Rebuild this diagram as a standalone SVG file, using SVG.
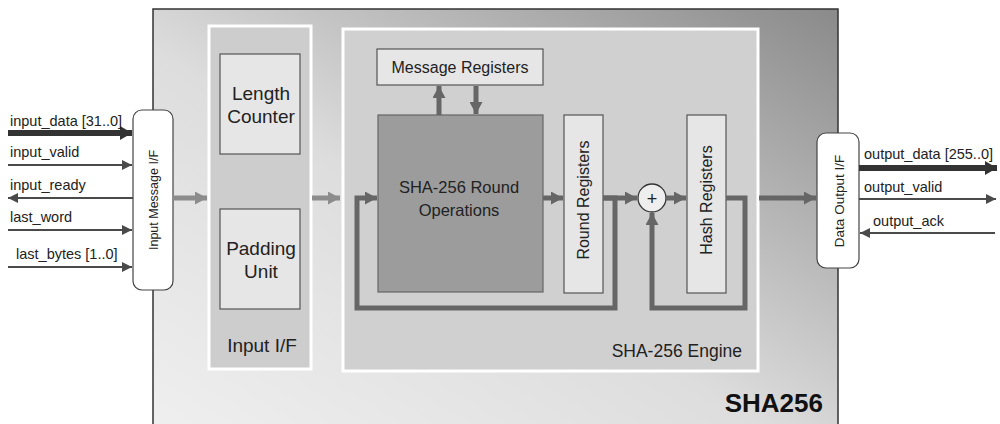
<svg xmlns="http://www.w3.org/2000/svg" width="1000" height="424" viewBox="0 0 1000 424">
<style>
text{font-family:"Liberation Sans",Arial,sans-serif;fill:#222}
.box{fill:#e6e6e6;stroke:#555;stroke-width:1.2}
.panel{fill:#cdcdcd;stroke:#fff;stroke-width:3}
.io{fill:#fff;stroke:#444;stroke-width:1.2}
.flow{fill:none;stroke:#666;stroke-width:5}
.flowl{fill:none;stroke:#8c8c8c;stroke-width:5}
.sig{fill:none;stroke:#4a4a4a;stroke-width:2}
.bus{fill:none;stroke:#333;stroke-width:6}
.lbl{font-size:14.5px}
.big{font-size:19px}
</style>
<defs>
<linearGradient id="g" x1="0" y1="1" x2="1" y2="0">
<stop offset="0" stop-color="#efefef"/>
<stop offset="0.45" stop-color="#dddddd"/>
<stop offset="1" stop-color="#8a8a8a"/>
</linearGradient>
<marker id="af" markerUnits="userSpaceOnUse" markerWidth="13" markerHeight="13" refX="12" refY="6.5" orient="auto"><path d="M0,0 L12,6.5 L0,13 z" fill="#666"/></marker>
<marker id="al" markerUnits="userSpaceOnUse" markerWidth="13" markerHeight="13" refX="12" refY="6.5" orient="auto"><path d="M0,0 L12,6.5 L0,13 z" fill="#8c8c8c"/></marker>
<marker id="as" markerUnits="userSpaceOnUse" markerWidth="11" markerHeight="10" refX="10" refY="5" orient="auto"><path d="M0,0 L10,5 L0,10 z" fill="#4a4a4a"/></marker>
<marker id="ab" markerUnits="userSpaceOnUse" markerWidth="13" markerHeight="14" refX="12" refY="7" orient="auto"><path d="M0,0 L12,7 L0,14 z" fill="#333"/></marker>
</defs>

<g id="sha256">
<rect x="153" y="9" width="685" height="420" fill="url(#g)" stroke="#333" stroke-width="1.5"/>
<text x="823" y="412" text-anchor="end" font-size="26" font-weight="bold" style="fill:#111">SHA256</text>
</g>

<g id="input-if">
<rect class="panel" x="209" y="26" width="102" height="343"/>
<text x="262" y="352" text-anchor="middle" class="big">Input I/F</text>
</g>
<g id="length-counter">
<rect class="box" x="220" y="54" width="80" height="100"/>
<text x="261" y="100" text-anchor="middle" class="big">Length</text>
<text x="261" y="123" text-anchor="middle" class="big">Counter</text>
</g>
<g id="padding-unit">
<rect class="box" x="220" y="209" width="80" height="100"/>
<text x="261" y="255" text-anchor="middle" class="big">Padding</text>
<text x="261" y="278" text-anchor="middle" class="big">Unit</text>
</g>

<g id="engine">
<rect class="panel" x="343" y="29" width="415" height="342" style="fill:#d0d0d0"/>
<text x="742" y="357" text-anchor="end" font-size="17.5">SHA-256 Engine</text>
</g>
<g id="message-registers">
<rect class="box" x="377" y="49" width="166" height="36"/>
<text x="460" y="73" text-anchor="middle" font-size="16">Message Registers</text>
</g>
<g id="round-ops">
<rect x="378" y="115" width="165" height="177" fill="#9c9c9c" stroke="#666" stroke-width="1.2"/>
<text x="459" y="193" text-anchor="middle" font-size="16.5">SHA-256 Round</text>
<text x="459" y="216" text-anchor="middle" font-size="16.5">Operations</text>
</g>
<g id="round-registers">
<rect class="box" x="564" y="115" width="39" height="178"/>
<text transform="translate(589,200) rotate(-90)" text-anchor="middle" font-size="16">Round Registers</text>
</g>
<g id="adder">
<circle cx="652" cy="198" r="14" fill="#eeeeee" stroke="#333" stroke-width="1.3"/>
<text x="652" y="204.5" text-anchor="middle" font-size="18">+</text>
</g>
<g id="hash-registers">
<rect class="box" x="687" y="115" width="39" height="178"/>
<text transform="translate(712,200) rotate(-90)" text-anchor="middle" font-size="16">Hash Registers</text>
</g>

<g id="input-message-if">
<rect class="io" x="133" y="110" width="40" height="180" rx="9"/>
<text transform="translate(157.5,200) rotate(-90)" text-anchor="middle" font-size="12.5">Input Message I/F</text>
</g>
<g id="data-output-if">
<rect class="io" x="817" y="133" width="42" height="135" rx="9"/>
<text transform="translate(843.5,201) rotate(-90)" text-anchor="middle" font-size="13.5">Data Output I/F</text>
</g>

<g id="connectors">
<line class="flowl" x1="173" y1="198" x2="207" y2="198" marker-end="url(#al)"/>
<line class="flowl" x1="312" y1="198" x2="340" y2="198" marker-end="url(#al)"/>
<line class="flow" x1="439" y1="115" x2="439" y2="86" marker-end="url(#af)"/>
<line class="flow" x1="476" y1="86" x2="476" y2="114" marker-end="url(#af)"/>
<line class="flow" x1="543" y1="198" x2="563" y2="198" marker-end="url(#af)"/>
<polyline class="flow" points="603,198 615,198 615,308 357,308 357,198 377,198" marker-end="url(#af)"/>
<line class="flow" x1="603" y1="198" x2="637" y2="198" marker-end="url(#af)"/>
<line class="flow" x1="666" y1="198" x2="686" y2="198" marker-end="url(#af)"/>
<polyline class="flow" points="726,198 745,198 745,308 652,308 652,213" marker-end="url(#af)"/>
<line class="flow" x1="759" y1="198" x2="816" y2="198" marker-end="url(#af)"/>

<line class="bus" x1="8" y1="133" x2="132" y2="133" marker-end="url(#ab)"/>
<line class="sig" x1="8" y1="165" x2="132" y2="165" marker-end="url(#as)"/>
<line class="sig" x1="133" y1="198" x2="8" y2="198" marker-end="url(#as)"/>
<line class="sig" x1="8" y1="230" x2="132" y2="230" marker-end="url(#as)"/>
<line class="sig" x1="8" y1="267" x2="132" y2="267" marker-end="url(#as)"/>

<line class="bus" x1="859" y1="168" x2="997" y2="168" marker-end="url(#ab)"/>
<line class="sig" x1="859" y1="199" x2="996" y2="199" marker-end="url(#as)"/>
<line class="sig" x1="995" y1="233" x2="860" y2="233" marker-end="url(#as)"/>
</g>

<g id="labels">
<text class="lbl" x="10" y="126">input_data [31..0]</text>
<text class="lbl" x="10" y="157">input_valid</text>
<text class="lbl" x="10" y="190">input_ready</text>
<text class="lbl" x="10" y="222">last_word</text>
<text class="lbl" x="16" y="259">last_bytes [1..0]</text>
<text class="lbl" x="864" y="159">output_data [255..0]</text>
<text class="lbl" x="864" y="192">output_valid</text>
<text class="lbl" x="873" y="226">output_ack</text>
</g>
</svg>
